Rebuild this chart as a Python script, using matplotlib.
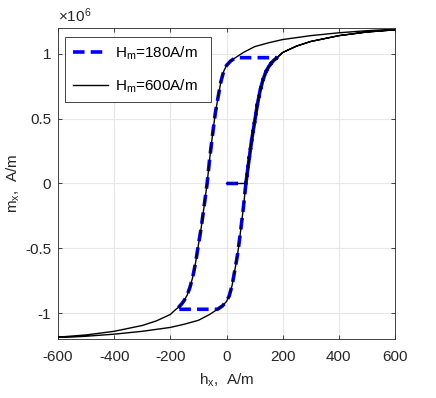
import matplotlib
matplotlib.use("Agg")
import matplotlib.pyplot as plt
from matplotlib.ticker import FuncFormatter
import numpy as np

plt.rcParams['font.family'] = ['Liberation Sans', 'DejaVu Sans']
plt.rcParams['axes.unicode_minus'] = False
plt.rcParams['mathtext.fontset'] = 'custom'
plt.rcParams['mathtext.rm'] = 'Liberation Sans'
plt.rcParams['mathtext.it'] = 'Liberation Sans'

# Major loop, descending branch (h in A/m, m in 1e6 A/m)
h_desc = [600, 500, 400, 300, 200, 150, 100, 60, 32, 15, 0, -10, -20, -30, -40,
          -50, -60, -69, -80, -90, -102, -110, -120, -130, -140, -150, -160,
          -170, -180, -200, -250, -300, -400, -500, -600]
m_desc = [1.19, 1.178, 1.162, 1.14, 1.11, 1.085, 1.055, 1.01, 0.97, 0.945, 0.91,
          0.865, 0.785, 0.665, 0.54, 0.37, 0.19, 0.0, -0.18, -0.34, -0.50, -0.61,
          -0.72, -0.80, -0.86, -0.90, -0.93, -0.953, -0.97, -1.01, -1.06, -1.095,
          -1.14, -1.168, -1.185]
# Ascending branch is the mirror image of the descending branch
h_asc = [-v for v in h_desc]
m_asc = [-v for v in m_desc]

H_minor = 180.0   # minor loop amplitude, A/m
H_major = 600.0   # major loop amplitude, A/m
scale = 1e6

h_d = np.array(h_desc); m_d = np.array(m_desc)
h_a = np.array(h_asc); m_a = np.array(m_asc)

def asc(h):
    return np.interp(h, h_a, m_a)

def loop(Hm):
    hc = np.interp(0.0, m_a, h_a)          # ascending zero crossing
    m_top = asc(Hm)
    h_top_join = np.interp(m_top, m_d[::-1], h_d[::-1])
    h_bot_join = -h_top_join
    hs, ms = [0.0, hc], [0.0, 0.0]
    sel = (h_a > hc) & (h_a < Hm)
    hs += list(h_a[sel]) + [Hm]; ms += list(m_a[sel]) + [m_top]
    sel = (h_d < h_top_join) & (h_d > -Hm)
    hs += [h_top_join] + list(h_d[sel]) + [-Hm]
    ms += [m_top] + list(m_d[sel]) + [-m_top]
    sel = (h_a > h_bot_join) & (h_a < Hm)
    hs += [h_bot_join] + list(h_a[sel]) + [Hm]
    ms += [-m_top] + list(m_a[sel]) + [m_top]
    return np.array(hs), np.array(ms) * scale

fig = plt.figure(figsize=(4.36, 3.98), dpi=100)
ax = fig.add_axes([0.133, 0.148, 0.773, 0.782])

hb, mb = loop(H_major)
hm, mm = loop(H_minor)
ax.plot(hm, mm, color=(0, 0, 1), lw=2.6, dashes=(3.2, 1.7),
        label='H$_\\mathrm{m}$=180A/m  ', zorder=3)
ax.plot(hb, mb, color='black', lw=1.0, label='H$_\\mathrm{m}$=600A/m  ', zorder=4)

ax.set_xlim(-600, 600)
ax.set_ylim(-1.2e6, 1.2e6)
ax.set_xticks(np.arange(-600, 601, 200))
ax.set_yticks(np.array([-1, -0.5, 0, 0.5, 1]) * scale)
ax.xaxis.set_major_formatter(FuncFormatter(lambda v, p: '%g' % v))
ax.yaxis.set_major_formatter(FuncFormatter(lambda v, p: '%g' % (v / scale)))
ax.grid(True, color='#e6e6e6', lw=0.8)
ax.set_axisbelow(True)
ax.tick_params(direction='in', top=True, right=True, length=3, labelsize=11,
               colors='#262626', width=0.6)
ax.tick_params(axis='x', pad=8)
ax.tick_params(axis='y', pad=5)
for s in ax.spines.values():
    s.set_color('#262626'); s.set_linewidth(0.6)
ax.text(0.0, 1.01, '$\\times$10$^6$', transform=ax.transAxes, fontsize=11,
        color='#262626', ha='left', va='bottom')
ax.set_xlabel('h$_\\mathrm{x}$,  A/m', fontsize=11, color='#262626', labelpad=5)
ax.set_ylabel('m$_\\mathrm{x}$,  A/m', fontsize=11, color='#262626', labelpad=2)

leg = ax.legend(loc='upper left', fontsize=11, fancybox=False, framealpha=1,
                edgecolor='#262626', handlelength=2.3, handletextpad=0.45,
                borderpad=0.5, borderaxespad=0, labelspacing=1.0,
                bbox_to_anchor=(0.021, 0.971))
leg.get_frame().set_linewidth(0.6)

fig.savefig('out.png', dpi=100)
